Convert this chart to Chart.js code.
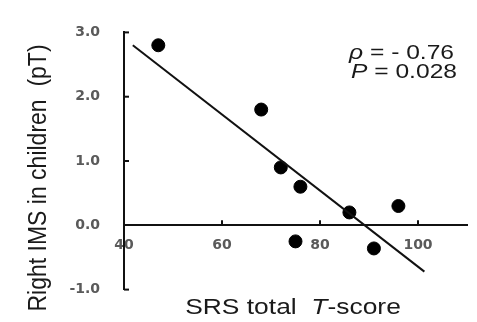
<!DOCTYPE html>
<html>
<head>
<meta charset="utf-8">
<script src="https://cdn.jsdelivr.net/npm/chart.js@4.4.0/dist/chart.umd.min.js"></script>
<style>
  html, body { margin: 0; padding: 0; background: #fff; }
  #wrap { width: 477px; height: 322px; }
</style>
</head>
<body>
<div id="wrap"><canvas id="c"></canvas></div>
<script>
// data
const srsScore = [47, 68, 72, 76, 86, 96, 75, 91];
const imsRight = [2.8, 1.8, 0.9, 0.6, 0.2, 0.3, -0.25, -0.36];
// regression line end points
const fitX = [41.8, 101.3];
const fitY = [2.8, -0.72];
const xTicks = [40, 60, 80, 100];
const yTicks = [-1, 0, 1, 2, 3];
const yTitle = 'Right IMS in children  (pT)';
const xTitle = [['SRS total  ', false], ['T', true], ['-score', false]];
const statLines = [
  [['ρ', true], [' = - 0.76', false]],
  [['P', true], [' = 0.028', false]]
];

const FONT = '"Liberation Sans", Arial, sans-serif';
const TICK_FONT = { family: 'DejaVu Sans, Verdana, sans-serif', size: 14, weight: 'bold' };

// draw text made of plain / italic pieces, stretched a bit sideways like the scan
function drawParts(ctx, parts, size, align) {
  const fontFor = it => (it ? 'italic ' : '') + size + 'px ' + FONT;
  let total = 0;
  const widths = parts.map(p => {
    ctx.font = fontFor(p[1]);
    const w = ctx.measureText(p[0]).width;
    total += w;
    return w;
  });
  let x = align === 'center' ? -total / 2 : 0;
  ctx.textBaseline = 'middle';
  ctx.textAlign = 'left';
  parts.forEach((p, i) => {
    ctx.font = fontFor(p[1]);
    ctx.fillText(p[0], x, 0);
    x += widths[i];
  });
}

const extras = {
  id: 'extras',
  afterDraw(chart) {
    const ctx = chart.ctx;
    const xs = chart.scales.x, ys = chart.scales.y;
    const x0 = xs.getPixelForValue(40), y0 = ys.getPixelForValue(0);
    ctx.save();
    ctx.strokeStyle = '#111';
    ctx.lineWidth = 2;
    // inward tick marks
    xTicks.forEach(v => {
      if (v === 40) return;
      const px = xs.getPixelForValue(v);
      ctx.beginPath(); ctx.moveTo(px, y0); ctx.lineTo(px, y0 - 5); ctx.stroke();
    });
    yTicks.forEach(v => {
      if (v === 0) return;
      const py = ys.getPixelForValue(v);
      ctx.beginPath(); ctx.moveTo(x0, py); ctx.lineTo(x0 + 5, py); ctx.stroke();
    });
    ctx.fillStyle = '#1a1a1a';
    // x title
    ctx.save();
    ctx.translate(293, 308);
    ctx.scale(1.2, 1);
    drawParts(ctx, xTitle, 22, 'center');
    ctx.restore();
    // y title
    ctx.save();
    ctx.translate(39, 178);
    ctx.rotate(-Math.PI / 2);
    ctx.scale(1, 1.15);
    drawParts(ctx, [[yTitle, false]], 23, 'center');
    ctx.restore();
    // statistics
    statLines.forEach((line, i) => {
      ctx.save();
      ctx.translate(i === 0 ? 349 : 351, 53 + i * 19);
      ctx.scale(1.2, 1);
      drawParts(ctx, line, 20.5, 'left');
      ctx.restore();
    });
    ctx.restore();
  }
};

new Chart(document.getElementById('c'), {
  type: 'scatter',
  data: {
    datasets: [
      {
        type: 'line',
        data: fitX.map((x, i) => ({ x: x, y: fitY[i] })),
        borderColor: '#111',
        borderWidth: 2,
        pointRadius: 0,
        fill: false
      },
      {
        data: srsScore.map((x, i) => ({ x: x, y: imsRight[i] })),
        backgroundColor: '#000',
        borderColor: '#000',
        pointRadius: 6.5,
        pointHoverRadius: 6.5
      }
    ]
  },
  options: {
    responsive: true,
    maintainAspectRatio: false,
    animation: false,
    events: [],
    clip: false,
    layout: { padding: { left: 0, right: 10, top: 15, bottom: 29 } },
    plugins: { legend: { display: false }, tooltip: { enabled: false } },
    scales: {
      x: {
        type: 'linear',
        position: { y: 0 },
        min: 40,
        max: 110,
        afterBuildTicks: s => { s.ticks = xTicks.map(v => ({ value: v })); },
        ticks: {
          autoSkip: false,
          maxRotation: 0,
          padding: 12,
          color: '#5a5a5a',
          font: TICK_FONT
        },
        grid: { display: true, drawOnChartArea: false, drawTicks: false },
        border: { display: true, color: '#111', width: 2 }
      },
      y: {
        min: -1,
        max: 3,
        afterBuildTicks: s => { s.ticks = yTicks.map(v => ({ value: v })); },
        afterFit: s => { s.width = 124; },
        ticks: {
          padding: 24,
          color: '#5a5a5a',
          callback: v => Number(v).toFixed(1),
          font: TICK_FONT
        },
        grid: { display: true, drawOnChartArea: false, drawTicks: false },
        border: { display: true, color: '#111', width: 2 }
      }
    }
  },
  plugins: [extras]
});
</script>
</body>
</html>
